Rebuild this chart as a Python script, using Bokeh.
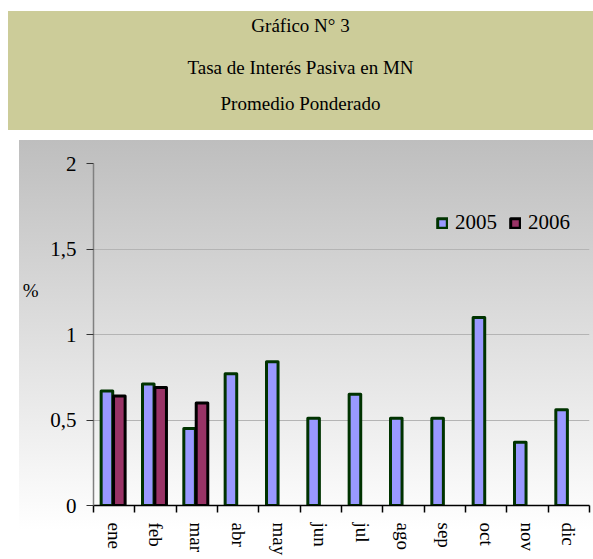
from bokeh.plotting import figure
from bokeh.layouts import column
from bokeh.models import (ColumnDataSource, Range1d, FixedTicker, Div, LinearAxis,
                          Legend, LegendItem)
from bokeh.embed import file_html
from bokeh.resources import INLINE
from bokeh.transform import dodge

# ---- data ----
months = ["ene", "feb", "mar", "abr", "may", "jun", "jul", "ago", "sep", "oct", "nov", "dic"]
v2005 = [0.67, 0.71, 0.45, 0.77, 0.84, 0.51, 0.65, 0.51, 0.51, 1.10, 0.37, 0.56]
v2006 = [0.64, 0.69, 0.60]
series_names = ["2005", "2006"]
y_ticks = [0, 0.5, 1, 1.5, 2]
y_tick_labels = ["0", "0,5", "1", "1,5", "2"]
title_lines = ["Gráfico N° 3", "Tasa de Interés Pasiva en MN", "Promedio Ponderado"]
y_unit = "%"

SERIF = "'Liberation Serif', 'Times New Roman', 'DejaVu Serif', serif"

pos = [i + 0.5 for i in range(len(months))]
src05 = ColumnDataSource(dict(x=pos, v=v2005, m=months))
src06 = ColumnDataSource(dict(x=pos[:len(v2006)], v=v2006, m=months[:len(v2006)]))

p = figure(frame_width=496, frame_height=342,
           x_range=Range1d(0, len(months)), y_range=Range1d(0, 2),
           output_backend="svg", toolbar_location=None,
           min_border_left=73, min_border_right=5, min_border_top=23, min_border_bottom=10,
           background_fill_alpha=0, border_fill_alpha=0, outline_line_color=None)
p.styles = {"background": "linear-gradient(to bottom, #BEBEBE 0px, #FFFFFF 390px) no-repeat",
            "background-size": "100% 390px"}
p.margin = (10, 0, 0, 19)

r05 = p.vbar(x=dodge("x", -0.175), top="v", width=0.28, source=src05,
             fill_color="#9999FF", line_color="#003300", line_width=3, line_join="round")
r06 = p.vbar(x=dodge("x", 0.125), top="v", width=0.28, source=src06,
             fill_color="#993366", line_color="#000000", line_width=3, line_join="round")

# x axis
xa = p.xaxis[0]
xa.ticker = FixedTicker(ticks=pos, minor_ticks=list(range(len(months) + 1)))
xa.major_label_overrides = {pos[i]: months[i] for i in range(len(months))}
xa.major_tick_line_color = None
xa.major_tick_out = 0
xa.major_tick_in = 0
xa.minor_tick_out = 7
xa.minor_tick_in = 0
xa.minor_tick_line_color = "#000000"
xa.minor_tick_line_width = 1.5
xa.axis_line_color = "#000000"
xa.axis_line_width = 1.5
xa.major_label_orientation = "vertical"
xa.major_label_standoff = 10
xa.major_label_text_font = SERIF
xa.major_label_text_font_size = "19px"
xa.major_label_text_color = "#000000"

# y axis
ya = p.yaxis[0]
ya.ticker = FixedTicker(ticks=y_ticks)
ya.major_label_overrides = {y_ticks[i]: y_tick_labels[i] for i in range(len(y_ticks))}
ya.major_tick_out = 7
ya.major_tick_in = 0
ya.major_tick_line_color = "#333333"
ya.minor_tick_line_color = None
ya.axis_line_color = "#808080"
ya.axis_line_width = 1.5
ya.major_label_standoff = 10
ya.major_label_text_font = SERIF
ya.major_label_text_font_size = "21px"
ya.major_label_text_color = "#000000"

# unit label "%" as the label of an extra bare axis placed left of the value axis;
# trailing blank lines lift the "%" above the frame's middle
unit_axis = LinearAxis(ticker=FixedTicker(ticks=[]),
                       axis_line_color=None, major_tick_line_color=None,
                       minor_tick_line_color=None, major_label_text_alpha=0,
                       axis_label=y_unit + "\n\u00a0" * 4, axis_label_orientation="horizontal",
                       axis_label_standoff=9, axis_label_text_font=SERIF,
                       axis_label_text_font_size="19px", axis_label_text_font_style="normal",
                       axis_label_text_line_height=1.05,
                       axis_label_text_color="#000000")
p.add_layout(unit_axis, "left")

p.xgrid.visible = False
p.ygrid.ticker = FixedTicker(ticks=[0.5, 1, 1.5])
p.ygrid.grid_line_color = "#B4B4B4"
p.ygrid.grid_line_width = 1

legend = Legend(items=[LegendItem(label=series_names[0], renderers=[r05]),
                       LegendItem(label=series_names[1], renderers=[r06])],
                location=(343, 270), orientation="horizontal",
                padding=0, margin=0, spacing=12, label_standoff=7,
                glyph_width=12, glyph_height=12,
                background_fill_alpha=0, border_line_color=None,
                label_text_font=SERIF, label_text_font_size="21px", label_text_color="#000000")
p.add_layout(legend)

tops = [4, 46, 82]
line_style = (f"position:absolute;left:0;width:585px;line-height:21px;text-align:center;"
              f"font-family:{SERIF};font-size:19px;color:#000000;")
inner = "".join(f'<div style="{line_style}top:{t}px;">{s}</div>'
                for t, s in zip(tops, title_lines))
html = ('<div style="position:relative;width:585px;height:119px;background:#CCCC99;">'
        + inner + '</div>')
div = Div(text=html, width=585, height=119, margin=(11, 0, 0, 8))

layout = column(div, p, spacing=0)
open("out.html", "w").write(file_html(layout, INLINE))
